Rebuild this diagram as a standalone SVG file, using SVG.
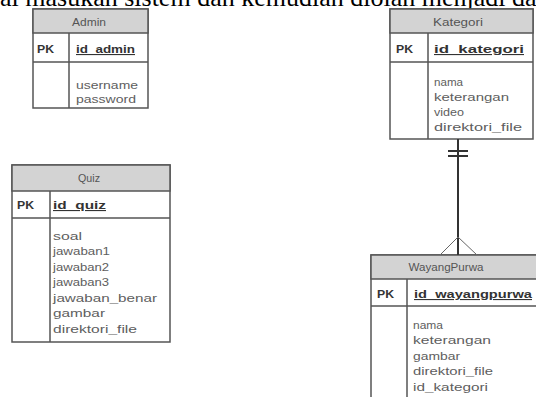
<svg xmlns="http://www.w3.org/2000/svg" width="536" height="397" viewBox="0 0 536 397">
  <style>
    .box { fill: #ffffff; stroke: #555555; stroke-width: 1.5; }
    .head { fill: #d3d3d3; stroke: #555555; stroke-width: 1.5; }
    .sep { stroke: #555555; stroke-width: 1.5; fill: none; }
    .title { font-family: "Liberation Sans", Arial, sans-serif; font-size: 11px; fill: #555555; text-anchor: middle; }
    .pk { font-family: "Liberation Sans", Arial, sans-serif; font-size: 11px; font-weight: bold; fill: #333333; }
    .key { font-family: "Liberation Sans", Arial, sans-serif; font-size: 11px; font-weight: bold; fill: #333333; text-decoration: underline; }
    .attr { font-family: "Liberation Sans", Arial, sans-serif; font-size: 11px; fill: #5e5e5e; }
    .rel { stroke: #333333; stroke-width: 2; fill: none; }
    .foot { stroke: #666666; stroke-width: 1; fill: none; }
    .prose { font-family: "Liberation Serif", "Times New Roman", serif; font-size: 26px; fill: #000000; }
  </style>

  <rect x="0" y="0" width="536" height="397" fill="#ffffff"/>

  <!-- running paragraph text, cut at the top edge -->
  <text class="prose" x="0" y="6">ai masukan sistem dan kemudian diolah menjadi da</text>

  <!-- Admin -->
  <g id="admin">
    <rect class="box" x="33" y="9" width="115" height="99"/>
    <rect class="head" x="33" y="9" width="115" height="24"/>
    <line class="sep" x1="33" y1="62" x2="148" y2="62"/>
    <line class="sep" x1="69" y1="33" x2="69" y2="108"/>
    <text class="title" x="89" y="26" textLength="34" lengthAdjust="spacingAndGlyphs">Admin</text>
    <text class="pk" x="37" y="53" textLength="17" lengthAdjust="spacingAndGlyphs">PK</text>
    <text class="key" x="76" y="53" textLength="59" lengthAdjust="spacingAndGlyphs">id_admin</text>
    <text class="attr" x="76" y="89" textLength="62" lengthAdjust="spacingAndGlyphs">username</text>
    <text class="attr" x="76" y="103" textLength="60" lengthAdjust="spacingAndGlyphs">password</text>
  </g>

  <!-- Kategori -->
  <g id="kategori">
    <rect class="box" x="390" y="9" width="143" height="130"/>
    <rect class="head" x="390" y="9" width="143" height="24"/>
    <line class="sep" x1="390" y1="62" x2="533" y2="62"/>
    <line class="sep" x1="428" y1="33" x2="428" y2="139"/>
    <text class="title" x="458" y="26" textLength="50" lengthAdjust="spacingAndGlyphs">Kategori</text>
    <text class="pk" x="396" y="53" textLength="17" lengthAdjust="spacingAndGlyphs">PK</text>
    <text class="key" x="434" y="53" textLength="90" lengthAdjust="spacingAndGlyphs">id_kategori</text>
    <text class="attr" x="434" y="86" textLength="29" lengthAdjust="spacingAndGlyphs">nama</text>
    <text class="attr" x="434" y="101" textLength="75" lengthAdjust="spacingAndGlyphs">keterangan</text>
    <text class="attr" x="434" y="116" textLength="30" lengthAdjust="spacingAndGlyphs">video</text>
    <text class="attr" x="434" y="131" textLength="88" lengthAdjust="spacingAndGlyphs">direktori_file</text>
  </g>

  <!-- Quiz -->
  <g id="quiz">
    <rect class="box" x="12" y="165" width="158" height="177"/>
    <rect class="head" x="12" y="165" width="158" height="26"/>
    <line class="sep" x1="12" y1="218" x2="170" y2="218"/>
    <line class="sep" x1="50" y1="191" x2="50" y2="342"/>
    <text class="title" x="89" y="182" textLength="22" lengthAdjust="spacingAndGlyphs">Quiz</text>
    <text class="pk" x="17" y="209" textLength="17" lengthAdjust="spacingAndGlyphs">PK</text>
    <text class="key" x="53" y="209" textLength="53" lengthAdjust="spacingAndGlyphs">id_quiz</text>
    <text class="attr" x="53" y="240" textLength="29" lengthAdjust="spacingAndGlyphs">soal</text>
    <text class="attr" x="53" y="255" textLength="57" lengthAdjust="spacingAndGlyphs">jawaban1</text>
    <text class="attr" x="53" y="271" textLength="56" lengthAdjust="spacingAndGlyphs">jawaban2</text>
    <text class="attr" x="53" y="286" textLength="56" lengthAdjust="spacingAndGlyphs">jawaban3</text>
    <text class="attr" x="53" y="302" textLength="104" lengthAdjust="spacingAndGlyphs">jawaban_benar</text>
    <text class="attr" x="53" y="317" textLength="52" lengthAdjust="spacingAndGlyphs">gambar</text>
    <text class="attr" x="53" y="333" textLength="84" lengthAdjust="spacingAndGlyphs">direktori_file</text>
  </g>

  <!-- WayangPurwa -->
  <g id="wayangpurwa">
    <rect class="box" x="371" y="255" width="170" height="150"/>
    <rect class="head" x="371" y="255" width="170" height="24"/>
    <line class="sep" x1="371" y1="306" x2="541" y2="306"/>
    <line class="sep" x1="407" y1="279" x2="407" y2="405"/>
    <text class="title" x="446" y="271" textLength="75" lengthAdjust="spacingAndGlyphs">WayangPurwa</text>
    <text class="pk" x="377" y="298" textLength="17" lengthAdjust="spacingAndGlyphs">PK</text>
    <text class="key" x="414" y="298" textLength="118" lengthAdjust="spacingAndGlyphs">id_wayangpurwa</text>
    <text class="attr" x="413" y="329" textLength="30" lengthAdjust="spacingAndGlyphs">nama</text>
    <text class="attr" x="413" y="344" textLength="78" lengthAdjust="spacingAndGlyphs">keterangan</text>
    <text class="attr" x="413" y="360" textLength="47" lengthAdjust="spacingAndGlyphs">gambar</text>
    <text class="attr" x="413" y="375" textLength="80" lengthAdjust="spacingAndGlyphs">direktori_file</text>
    <text class="attr" x="413" y="391" textLength="75" lengthAdjust="spacingAndGlyphs">id_kategori</text>
  </g>

  <!-- Kategori 1 .. N WayangPurwa -->
  <g id="connectors">
    <line class="rel" x1="458" y1="139" x2="458" y2="255"/>
    <line class="rel" x1="448" y1="151" x2="468" y2="151" stroke-width="1.5"/>
    <line class="rel" x1="448" y1="156" x2="468" y2="156" stroke-width="1.5"/>
    <polyline class="foot" points="440,255 458,237 477,255"/>
  </g>
</svg>
